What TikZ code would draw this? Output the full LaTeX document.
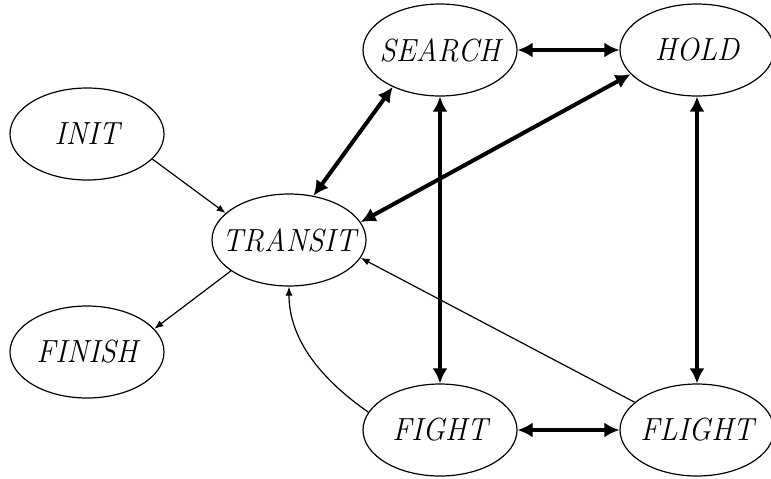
\documentclass[tikz,border=0pt]{standalone}
\usetikzlibrary{shapes.geometric,arrows.meta}
\newcommand{\lbl}[1]{\makebox[0pt]{\scalebox{0.93}[1]{\itshape #1}}}
\begin{document}
\begin{tikzpicture}[x=0.5pt,y=-0.5pt,
  st/.style={draw,ellipse,line width=0.6pt,inner sep=0pt,minimum width=77pt,minimum height=46pt,font=\fontsize{16}{19}\selectfont},
  thin/.style={line width=0.6pt,-{Latex[length=4.5pt,width=3.5pt]}},
  thick2/.style={line width=2pt,{Latex[length=7.5pt,width=7.5pt]}-{Latex[length=7.5pt,width=7.5pt]}}]
\useasboundingbox (0,0) rectangle (771,478);
\node[st] (init) at (87,134) {\lbl{INIT}};
\node[st] (transit) at (289,240) {\lbl{TRANSIT}};
\node[st] (finish) at (87,352) {\lbl{FINISH}};
\node[st] (search) at (440,50) {\lbl{SEARCH}};
\node[st] (hold) at (697,50) {\lbl{HOLD}};
\node[st] (fight) at (440,430) {\lbl{FIGHT}};
\node[st] (flight) at (697,430) {\lbl{FLIGHT}};
\draw[thin] (init.-21) -- (transit.157);
\draw[thin] (transit.208) -- (finish.19);
\draw[thin] (flight.156) -- (transit.-14);
\draw[thin] (fight.166) .. controls (322,380) and (289,340) .. (transit.south);
\draw[thick2] (search.218) -- (transit.61);
\draw[thick2] (hold.200) -- (transit.14);
\draw[thick2] (search.east) -- (hold.west);
\draw[thick2] (search.south) -- (fight.north);
\draw[thick2] (hold.south) -- (flight.north);
\draw[thick2] (fight.east) -- (flight.west);
\end{tikzpicture}
\end{document}
